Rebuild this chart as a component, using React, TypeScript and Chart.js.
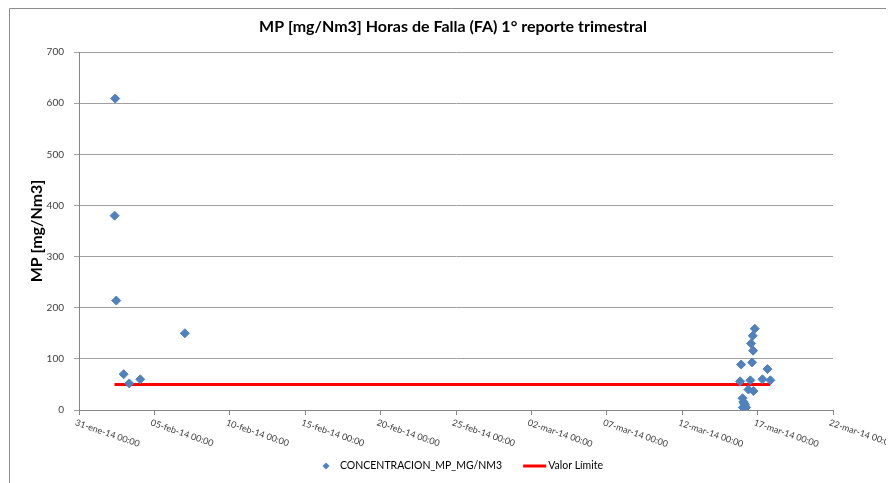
import React, { useEffect, useRef } from "react";
import { Chart, registerables } from "chart.js";

Chart.register(...registerables);

// ---------- data ----------
const CHART_TITLE = "MP [mg/Nm3] Horas de Falla (FA) 1° reporte trimestral";
const Y_AXIS_TITLE = "MP [mg/Nm3]";
const SERIES_LABEL = "CONCENTRACION_MP_MG/NM3";
const LIMIT_LABEL = "Valor Límite";

const BASE_DATE = "2014-01-31 00:00";
const MONTHS_ES = ["ene", "feb", "mar", "abr", "may", "jun", "jul", "ago", "sep", "oct", "nov", "dic"];

const sampleTimes = [
  "2014-02-02 09:40",
  "2014-02-02 08:40",
  "2014-02-02 11:20",
  "2014-02-02 23:00",
  "2014-02-03 08:00",
  "2014-02-04 01:30",
  "2014-02-07 00:30",
  "2014-03-16 19:30",
  "2014-03-16 16:20",
  "2014-03-16 13:40",
  "2014-03-16 16:50",
  "2014-03-15 21:50",
  "2014-03-16 15:20",
  "2014-03-17 15:40",
  "2014-03-15 20:10",
  "2014-03-16 12:30",
  "2014-03-17 07:40",
  "2014-03-17 20:20",
  "2014-03-16 09:20",
  "2014-03-16 17:20",
  "2014-03-16 00:00",
  "2014-03-16 01:30",
  "2014-03-16 04:00",
  "2014-03-16 00:30",
  "2014-03-16 05:40",
  "2014-03-16 02:40",
];
const sampleValues = [
  609, 380, 214, 70, 52, 60, 150,
  159, 145, 130, 116, 89, 93, 80, 56, 58, 60, 58, 40, 37, 23, 16, 10, 5, 5, 13,
];

const limitTimes = ["2014-02-02 08:30", "2014-03-17 20:00"];
const limitValues = [50, 50];

const X_MIN_DAYS = 0;
const X_MAX_DAYS = 50;
const X_STEP_DAYS = 5;
const Y_MIN = 0;
const Y_MAX = 700;
const Y_STEP = 100;

// ---------- helpers ----------
const FONT = "Lato, 'Open Sans', sans-serif";
const DAY_MS = 86400000;

function parseUTC(s: string): number {
  const [d, t] = s.split(" ");
  const [Y, M, D] = d.split("-").map(Number);
  const [h, m] = t.split(":").map(Number);
  return Date.UTC(Y, M - 1, D, h, m);
}
const BASE_MS = parseUTC(BASE_DATE);
const toDays = (s: string) => (parseUTC(s) - BASE_MS) / DAY_MS;
const pad2 = (n: number) => (n < 10 ? "0" + n : "" + n);
function formatTick(days: number): string {
  const d = new Date(BASE_MS + Math.round(days * DAY_MS));
  return (
    pad2(d.getUTCDate()) +
    "-" +
    MONTHS_ES[d.getUTCMonth()] +
    "-" +
    pad2(d.getUTCFullYear() % 100) +
    " " +
    pad2(d.getUTCHours()) +
    ":" +
    pad2(d.getUTCMinutes())
  );
}

const decorPlugin = {
  id: "decor",
  afterDraw(chart: any) {
    const ctx = chart.ctx as CanvasRenderingContext2D;
    const xs = chart.scales.x;
    ctx.save();

    // frame (top + left)
    ctx.strokeStyle = "#8C8C8C";
    ctx.lineWidth = 1;
    ctx.beginPath();
    ctx.moveTo(1.5, chart.height);
    ctx.lineTo(1.5, 0.5);
    ctx.lineTo(chart.width, 0.5);
    ctx.stroke();

    // title
    ctx.fillStyle = "#000000";
    ctx.font = `bold 16px ${FONT}`;
    ctx.textAlign = "center";
    ctx.textBaseline = "middle";
    ctx.fillText(CHART_TITLE, 445, 19);

    // rotated x tick labels
    ctx.font = `9px ${FONT}`;
    ctx.fillStyle = "#404040";
    ctx.textAlign = "left";
    ctx.textBaseline = "top";
    xs.ticks.forEach((t: any) => {
      const px = xs.getPixelForValue(t.value);
      ctx.save();
      ctx.translate(px - 2, xs.top + 8);
      ctx.rotate((19 * Math.PI) / 180);
      ctx.fillText(formatTick(t.value), 0, 0);
      ctx.restore();
    });

    // legend
    const ds0 = chart.data.datasets[0];
    const ds1 = chart.data.datasets[1];
    const ly = 458;
    ctx.font = `10.5px ${FONT}`;
    ctx.textBaseline = "middle";
    ctx.fillStyle = ds0.backgroundColor;
    let x = 318;
    ctx.beginPath();
    ctx.moveTo(x - 3.5, ly);
    ctx.lineTo(x, ly - 3.5);
    ctx.lineTo(x + 3.5, ly);
    ctx.lineTo(x, ly + 3.5);
    ctx.closePath();
    ctx.fill();
    x = 332;
    ctx.fillStyle = "#000000";
    ctx.fillText(ds0.label, x, ly);
    x += ctx.measureText(ds0.label).width + 21;
    ctx.strokeStyle = ds1.borderColor;
    ctx.lineWidth = 3;
    ctx.beginPath();
    ctx.moveTo(x, ly);
    ctx.lineTo(x + 23, ly);
    ctx.stroke();
    x += 25;
    ctx.fillText(ds1.label, x, ly);

    ctx.restore();
  },
};

export default function App() {
  const ref = useRef<HTMLCanvasElement | null>(null);

  useEffect(() => {
    if (!ref.current) return;
    const chart = new Chart(ref.current, {
      type: "scatter",
      data: {
        datasets: [
          {
            label: SERIES_LABEL,
            data: sampleTimes.map((t, i) => ({ x: toDays(t), y: sampleValues[i] })),
            backgroundColor: "#4F81BD",
            borderColor: "#4F81BD",
            borderWidth: 1,
            pointStyle: "rectRot",
            pointRadius: 4.5,
          },
          {
            label: LIMIT_LABEL,
            data: limitTimes.map((t, i) => ({ x: toDays(t), y: limitValues[i] })),
            showLine: true,
            borderColor: "#FF0000",
            backgroundColor: "#FF0000",
            borderWidth: 3,
            pointRadius: 0,
          },
        ],
      },
      options: {
        animation: false,
        responsive: false,
        layout: { padding: { top: 44, right: 61, left: 0, bottom: 0 } },
        plugins: {
          legend: { display: false },
          title: { display: false },
          tooltip: { enabled: false },
        },
        scales: {
          x: {
            type: "linear",
            min: X_MIN_DAYS,
            max: X_MAX_DAYS,
            ticks: { stepSize: X_STEP_DAYS, display: false },
            grid: { drawOnChartArea: false, drawTicks: true, tickLength: 5, color: "#868686" },
            border: { color: "#868686" },
            afterFit: (s: any) => {
              s.height = 73;
            },
          },
          y: {
            type: "linear",
            min: Y_MIN,
            max: Y_MAX,
            ticks: {
              stepSize: Y_STEP,
              padding: 10,
              color: "#404040",
              font: { family: FONT, size: 10 },
            },
            grid: { color: "#A0A0A0", tickLength: 5, drawTicks: true },
            border: { color: "#868686" },
            title: {
              display: true,
              text: Y_AXIS_TITLE,
              color: "#000000",
              font: { family: FONT, size: 16, weight: "bold" },
              padding: { top: 19, bottom: 0 },
            },
            afterFit: (s: any) => {
              s.width = 71;
            },
          },
        },
      },
      plugins: [decorPlugin],
    } as any);
    return () => chart.destroy();
  }, []);

  return <canvas ref={ref} width={886} height={475} style={{ display: "block" }} />;
}
